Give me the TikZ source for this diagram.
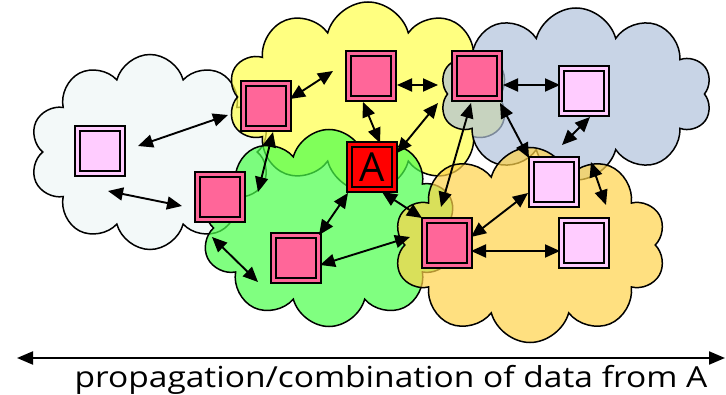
\documentclass[tikz,border=0pt]{standalone}
\usepackage{fontspec}
\setmainfont{Open Sans}
\usetikzlibrary{shapes.symbols,arrows.meta}
\definecolor{cpale}{HTML}{EEF6F6}
\definecolor{cyel}{HTML}{FFFF4A}
\definecolor{cblue}{HTML}{B0C2DB}
\definecolor{cgreen}{HTML}{4AFF4A}
\definecolor{corange}{HTML}{FFD34A}
\definecolor{npink}{HTML}{FF6699}
\definecolor{npale}{HTML}{FFCCFF}
\definecolor{nred}{HTML}{FF0000}
\tikzset{
  cloudbase/.style={cloud, cloud puffs=10, cloud ignores aspect, draw=black, line width=1.5, fill opacity=0.7, inner sep=0pt},
  netnode/.style={draw=black, line width=2.4, double distance=2.4, minimum size=45, inner sep=0pt},
  pinknode/.style={netnode, fill=npink, double=npink},
  palenode/.style={netnode, fill=npale, double=npale},
  rednode/.style={netnode, fill=nred, double=nred},
  dbl/.style={{Triangle[length=15,width=13]}-{Triangle[length=15,width=13]}, line width=1.9},
}
\begin{document}
\begin{tikzpicture}[x=1pt,y=-1pt]
\path[use as bounding box] (0,0) rectangle (726,395);
% clouds
\node[cloudbase, fill=cpale, minimum width=240, minimum height=195] (cpale) at (150,152) {};
\node[cloudbase, fill=cyel, minimum width=280, minimum height=190] (cyel) at (368,97) {};
\node[cloudbase, fill=cblue, minimum width=272, minimum height=172] (cblue) at (576,94) {};
\node[cloudbase, fill=cgreen, minimum width=255, minimum height=197] (cgreen) at (329,228) {};
\node[cloudbase, fill=corange, minimum width=272, minimum height=195] (corange) at (530,245) {};
% nodes
\node[palenode] (n1) at (100,151) {};
\node[pinknode] (n2) at (266,106) {};
\node[pinknode] (n3) at (371,76) {};
\node[pinknode] (n4) at (477,76) {};
\node[palenode] (n5) at (584,91) {};
\node[rednode, font=\fontsize{40}{40}\selectfont] (nA) at (372,167) {A};
\node[pinknode] (n7) at (220,197) {};
\node[pinknode] (n8) at (296,258) {};
\node[pinknode] (n9) at (447,243) {};
\node[palenode] (n10) at (554,182) {};
\node[palenode] (n11) at (584,243) {};
% arrow end points
\coordinate (a1s) at (138,146); \coordinate (a1e) at (228,115);
\coordinate (a2s) at (108,191); \coordinate (a2e) at (182,206);
\coordinate (a3s) at (290,99);  \coordinate (a3e) at (333,71);
\coordinate (a4s) at (273,132); \coordinate (a4e) at (258,192);
\coordinate (a5s) at (397,85);  \coordinate (a5e) at (438,85);
\coordinate (a6s) at (363,102); \coordinate (a6e) at (380,143);
\coordinate (a7s) at (397,153); \coordinate (a7e) at (438,103);
\coordinate (a8s) at (471,103); \coordinate (a8e) at (441,207);
\coordinate (a9s) at (503,85);  \coordinate (a9e) at (560,85);
\coordinate (a10s) at (500,103); \coordinate (a10e) at (529,158);
\coordinate (a11s) at (590,117); \coordinate (a11e) at (562,145);
\coordinate (a12s) at (591,162); \coordinate (a12e) at (606,205);
\coordinate (a13s) at (528,193); \coordinate (a13e) at (471,237);
\coordinate (a14s) at (471,251); \coordinate (a14e) at (560,251);
\coordinate (a15s) at (348,193); \coordinate (a15e) at (319,235);
\coordinate (a16s) at (382,192); \coordinate (a16e) at (422,218);
\coordinate (a17s) at (320,265); \coordinate (a17e) at (410,237);
\coordinate (a18s) at (212,237); \coordinate (a18e) at (258,282);
\foreach \i in {1,...,18} {\draw[dbl] (a\i s) -- (a\i e);}
% bottom axis
\coordinate (axl) at (17,358);
\coordinate (axr) at (725,358);
\draw[{Triangle[length=16,width=13]}-{Triangle[length=16,width=13]}, line width=2] (axl) -- (axr);
\node[anchor=base, font=\fontsize{29}{29}\selectfont, inner sep=0pt] (lbl) at (391,388) {\scalebox{1.155}[1]{propagation/combination of data from A}};
\end{tikzpicture}
\end{document}
